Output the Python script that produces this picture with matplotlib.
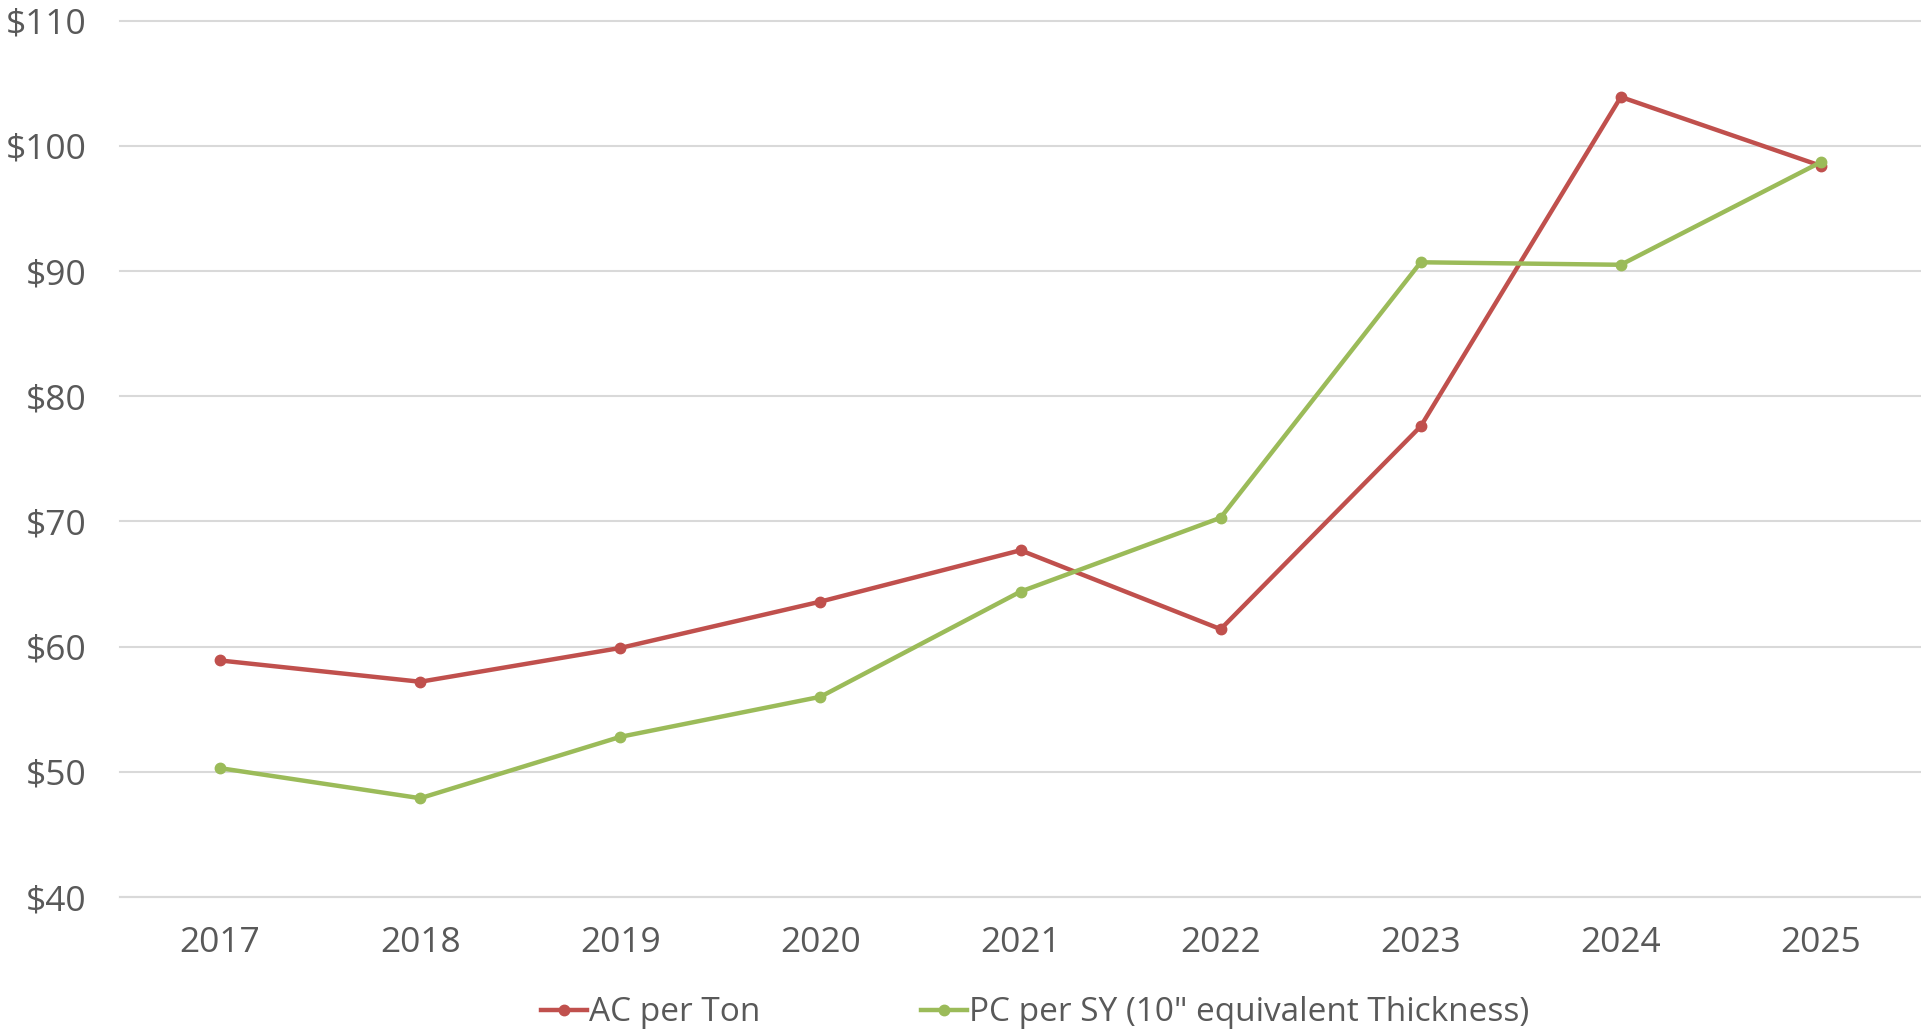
import matplotlib

matplotlib.use("Agg")
import matplotlib.pyplot as plt  # noqa: E402

years = ["2017", "2018", "2019", "2020", "2021", "2022", "2023", "2024", "2025"]
ac_per_ton = [58.9, 57.2, 59.9, 63.6, 67.7, 61.4, 77.6, 103.9, 98.4]
pc_per_sy = [50.3, 47.9, 52.8, 56.0, 64.4, 70.3, 90.7, 90.5, 98.7]
y_ticks = [40, 50, 60, 70, 80, 90, 100, 110]

RED = "#C0504D"
GREEN = "#9BBB59"
TEXT = "#595959"
GRID = "#D9D9D9"

plt.rcParams["font.family"] = ["Open Sans", "DejaVu Sans"]

fig = plt.figure(figsize=(19.21, 10.30), dpi=100)
ax = fig.add_axes([0.0625, 0.129, 0.9375, 0.851])

x = range(len(years))
ax.plot(x, ac_per_ton, color=RED, lw=3.2, marker="o", ms=7.5,
        label="AC per Ton", clip_on=False, zorder=3)
ax.plot(x, pc_per_sy, color=GREEN, lw=3.2, marker="o", ms=7.5,
        label='PC per SY (10" equivalent Thickness)', clip_on=False, zorder=3)

ax.set_xlim(-0.5, len(years) - 0.5)
ax.set_ylim(40, 110)
ax.set_xticks(list(x))
ax.set_xticklabels(years)
ax.set_yticks(y_ticks)
ax.set_yticklabels([f"${v}" for v in y_ticks])

ax.grid(axis="y", color=GRID, lw=1.5)
ax.set_axisbelow(True)
for gl in ax.get_ygridlines():
    gl.set_clip_on(False)
for side in ("top", "right", "left"):
    ax.spines[side].set_visible(False)
ax.spines["bottom"].set_color(GRID)
ax.spines["bottom"].set_linewidth(1.5)

ax.tick_params(axis="both", length=0, labelsize=25.5, colors=TEXT)
ax.tick_params(axis="y", pad=24)
ax.tick_params(axis="x", pad=21)

leg = ax.legend(loc="upper center", bbox_to_anchor=(0.508, -0.098), ncol=2,
                frameon=False, fontsize=24, handlelength=1.4, handletextpad=0.05,
                columnspacing=4.8, labelcolor=TEXT, borderaxespad=0)

fig.savefig("out.png", dpi=100)
